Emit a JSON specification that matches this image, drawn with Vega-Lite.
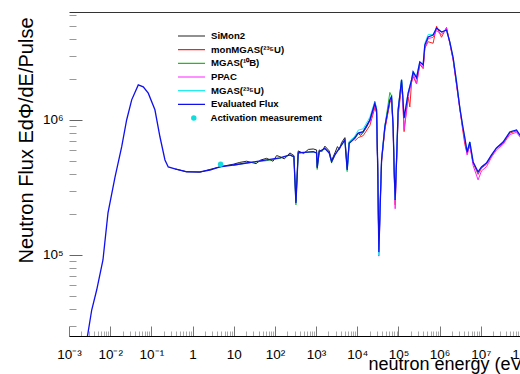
{
  "$schema": "https://vega.github.io/schema/vega-lite/v6.json",
  "width": 453,
  "height": 324,
  "autosize": {"type": "none"},
  "padding": {"left": 69, "top": 12, "right": 0, "bottom": 38},
  "background": "white",
  "config": {"view": {"stroke": null}, "font": "Liberation Sans"},
  "datasets": {
    "simon2": [
      {"E": 0.374, "F": 434000}, {"E": 0.719, "F": 414000}, {"E": 1.51, "F": 410000}, {"E": 2.64, "F": 430000}, {"E": 4.62, "F": 450000}, {"E": 9.72, "F": 470000}, {"E": 14, "F": 485000}, {"E": 20.6, "F": 495000}, {"E": 35, "F": 475000}, {"E": 45, "F": 505000}, {"E": 62.9, "F": 520000}, {"E": 90, "F": 495000}, {"E": 110, "F": 545000}, {"E": 132, "F": 535000}, {"E": 170, "F": 515000}, {"E": 231, "F": 570000}, {"E": 289, "F": 545000}, {"E": 324, "F": 250000}, {"E": 368, "F": 590000}, {"E": 500, "F": 565000}, {"E": 650, "F": 605000}, {"E": 851, "F": 610000}, {"E": 1028, "F": 600000}, {"E": 1064, "F": 450000}, {"E": 1190, "F": 600000}, {"E": 1400, "F": 585000}, {"E": 1636, "F": 640000}, {"E": 2080, "F": 590000}, {"E": 2377, "F": 500000}, {"E": 2860, "F": 570000}, {"E": 3300, "F": 635000}, {"E": 3700, "F": 605000}, {"E": 4157, "F": 680000}, {"E": 5000, "F": 740000}, {"E": 5690, "F": 435000}, {"E": 6355, "F": 690000}, {"E": 7500, "F": 725000}, {"E": 8750, "F": 750000}, {"E": 10500, "F": 800000}, {"E": 12000, "F": 770000}, {"E": 13900, "F": 810000}, {"E": 17000, "F": 890000}, {"E": 20200, "F": 990000}, {"E": 26700, "F": 1300000}, {"E": 29400, "F": 1170000}, {"E": 31100, "F": 500000}, {"E": 32200, "F": 250000}, {"E": 33400, "F": 105000}
    ],
    "monmgas": [
      {"E": 8750, "F": 700000}, {"E": 10500, "F": 740000}, {"E": 13900, "F": 765000}, {"E": 20200, "F": 910000}, {"E": 26700, "F": 1230000}, {"E": 29400, "F": 1130000}, {"E": 31100, "F": 520000}, {"E": 32200, "F": 260000}, {"E": 33400, "F": 110000}, {"E": 36800, "F": 300000}, {"E": 38900, "F": 490000}, {"E": 46800, "F": 850000}, {"E": 61800, "F": 1340000}, {"E": 68000, "F": 1440000}, {"E": 74300, "F": 860000}, {"E": 78700, "F": 410000}, {"E": 83200, "F": 235000}, {"E": 89900, "F": 480000}, {"E": 98400, "F": 1080000}, {"E": 119000, "F": 1780000}, {"E": 126000, "F": 1520000}, {"E": 137000, "F": 820000}, {"E": 172000, "F": 1480000}, {"E": 189000, "F": 1250000}, {"E": 208000, "F": 1900000}, {"E": 227000, "F": 2100000}, {"E": 275000, "F": 1850000}, {"E": 330000, "F": 2580000}, {"E": 398000, "F": 2400000}, {"E": 437000, "F": 3400000}, {"E": 526000, "F": 3800000}, {"E": 695000, "F": 3700000}, {"E": 841000, "F": 4950000}, {"E": 1110000, "F": 4100000}, {"E": 1470000, "F": 4850000}, {"E": 1770000, "F": 3700000}, {"E": 2130000, "F": 2780000}, {"E": 2570000, "F": 1820000}, {"E": 3090000, "F": 1230000}, {"E": 3600000, "F": 860000}, {"E": 4090000, "F": 660000}, {"E": 4650000, "F": 565000}, {"E": 5410000, "F": 650000}, {"E": 6500000, "F": 480000}, {"E": 8590000, "F": 395000}, {"E": 10400000, "F": 440000}, {"E": 13700000, "F": 470000}, {"E": 18200000, "F": 540000}, {"E": 24000000, "F": 620000}, {"E": 34800000, "F": 670000}, {"E": 50600000, "F": 800000}, {"E": 73600000, "F": 830000}, {"E": 88500000, "F": 770000}, {"E": 100000000, "F": 780000}
    ],
    "mgas10b": [
      {"E": 9.72, "F": 460000}, {"E": 20.6, "F": 480000}, {"E": 62.9, "F": 500000}, {"E": 132, "F": 520000}, {"E": 231, "F": 550000}, {"E": 289, "F": 530000}, {"E": 324, "F": 235000}, {"E": 368, "F": 570000}, {"E": 851, "F": 580000}, {"E": 1028, "F": 570000}, {"E": 1064, "F": 430000}, {"E": 1190, "F": 580000}, {"E": 1636, "F": 610000}, {"E": 2080, "F": 570000}, {"E": 2377, "F": 480000}, {"E": 2860, "F": 550000}, {"E": 4157, "F": 650000}, {"E": 5000, "F": 710000}, {"E": 5690, "F": 415000}, {"E": 6355, "F": 670000}, {"E": 8750, "F": 730000}, {"E": 10500, "F": 790000}, {"E": 13900, "F": 810000}, {"E": 20200, "F": 1000000}, {"E": 26700, "F": 1360000}, {"E": 29400, "F": 1200000}, {"E": 31100, "F": 510000}, {"E": 32200, "F": 260000}, {"E": 33400, "F": 110000}, {"E": 36800, "F": 290000}, {"E": 38900, "F": 510000}, {"E": 46800, "F": 900000}, {"E": 61800, "F": 1600000}, {"E": 68000, "F": 1500000}, {"E": 74300, "F": 890000}, {"E": 78700, "F": 430000}, {"E": 83200, "F": 260000}, {"E": 89900, "F": 510000}, {"E": 98400, "F": 1200000}, {"E": 119000, "F": 2000000}, {"E": 126000, "F": 1600000}
    ],
    "ppac": [
      {"E": 20200, "F": 960000}, {"E": 26700, "F": 1280000}, {"E": 29400, "F": 1150000}, {"E": 31100, "F": 490000}, {"E": 32200, "F": 250000}, {"E": 33400, "F": 98000}, {"E": 36800, "F": 280000}, {"E": 38900, "F": 500000}, {"E": 46800, "F": 870000}, {"E": 61800, "F": 1370000}, {"E": 68000, "F": 1450000}, {"E": 74300, "F": 870000}, {"E": 78700, "F": 420000}, {"E": 83200, "F": 220000}, {"E": 89900, "F": 500000}, {"E": 98400, "F": 1150000}, {"E": 119000, "F": 1900000}, {"E": 126000, "F": 1500000}, {"E": 137000, "F": 850000}, {"E": 172000, "F": 1500000}, {"E": 208000, "F": 1900000}, {"E": 227000, "F": 2200000}, {"E": 275000, "F": 1850000}, {"E": 330000, "F": 2600000}, {"E": 398000, "F": 2450000}, {"E": 437000, "F": 3400000}, {"E": 526000, "F": 4000000}, {"E": 695000, "F": 4100000}, {"E": 841000, "F": 4600000}, {"E": 1110000, "F": 4300000}, {"E": 1470000, "F": 4800000}, {"E": 1770000, "F": 3700000}, {"E": 2130000, "F": 2800000}, {"E": 2570000, "F": 1850000}, {"E": 3090000, "F": 1200000}, {"E": 3600000, "F": 890000}, {"E": 4090000, "F": 700000}, {"E": 4650000, "F": 550000}, {"E": 5410000, "F": 650000}, {"E": 6500000, "F": 460000}, {"E": 8590000, "F": 360000}, {"E": 10400000, "F": 420000}, {"E": 13700000, "F": 450000}, {"E": 18200000, "F": 530000}, {"E": 24000000, "F": 600000}, {"E": 34800000, "F": 660000}, {"E": 50600000, "F": 780000}, {"E": 73600000, "F": 810000}, {"E": 88500000, "F": 750000}, {"E": 100000000, "F": 760000}
    ],
    "mgas235u": [
      {"E": 5690, "F": 420000}, {"E": 6355, "F": 690000}, {"E": 8750, "F": 760000}, {"E": 10500, "F": 840000}, {"E": 13900, "F": 860000}, {"E": 20200, "F": 1050000}, {"E": 26700, "F": 1380000}, {"E": 29400, "F": 1220000}, {"E": 31100, "F": 500000}, {"E": 32200, "F": 250000}, {"E": 33400, "F": 100000}, {"E": 36800, "F": 290000}, {"E": 38900, "F": 510000}, {"E": 46800, "F": 910000}, {"E": 61800, "F": 1430000}, {"E": 68000, "F": 1520000}, {"E": 74300, "F": 900000}, {"E": 78700, "F": 430000}, {"E": 83200, "F": 260000}, {"E": 89900, "F": 510000}, {"E": 98400, "F": 1200000}, {"E": 119000, "F": 2000000}, {"E": 126000, "F": 1600000}, {"E": 137000, "F": 1050000}, {"E": 172000, "F": 1600000}, {"E": 208000, "F": 2000000}, {"E": 227000, "F": 2300000}, {"E": 275000, "F": 2100000}, {"E": 330000, "F": 2700000}, {"E": 398000, "F": 2600000}, {"E": 437000, "F": 3700000}, {"E": 526000, "F": 4300000}, {"E": 695000, "F": 4300000}, {"E": 841000, "F": 4800000}, {"E": 1110000, "F": 4500000}, {"E": 1470000, "F": 4600000}, {"E": 1770000, "F": 3800000}, {"E": 2130000, "F": 2900000}, {"E": 2570000, "F": 1950000}, {"E": 3090000, "F": 1250000}, {"E": 3600000, "F": 920000}, {"E": 4090000, "F": 740000}, {"E": 4650000, "F": 580000}, {"E": 5410000, "F": 690000}, {"E": 6500000, "F": 490000}, {"E": 8590000, "F": 410000}, {"E": 10400000, "F": 450000}, {"E": 13700000, "F": 480000}, {"E": 18200000, "F": 550000}, {"E": 24000000, "F": 620000}, {"E": 34800000, "F": 690000}, {"E": 50600000, "F": 820000}, {"E": 73600000, "F": 840000}, {"E": 88500000, "F": 770000}, {"E": 100000000, "F": 790000}
    ],
    "evaluated": [
      {"E": 0.00259, "F": 21500}, {"E": 0.00356, "F": 39100}, {"E": 0.0047, "F": 55000}, {"E": 0.00668, "F": 91800}, {"E": 0.00885, "F": 205000}, {"E": 0.0131, "F": 378000}, {"E": 0.019, "F": 631000}, {"E": 0.0251, "F": 1000000}, {"E": 0.0333, "F": 1410000}, {"E": 0.0481, "F": 1820000}, {"E": 0.0635, "F": 1760000}, {"E": 0.0841, "F": 1580000}, {"E": 0.122, "F": 1190000}, {"E": 0.162, "F": 748000}, {"E": 0.214, "F": 506000}, {"E": 0.257, "F": 449000}, {"E": 0.374, "F": 434000}, {"E": 0.719, "F": 412000}, {"E": 1.51, "F": 412000}, {"E": 2.64, "F": 426000}, {"E": 4.62, "F": 449000}, {"E": 9.72, "F": 464000}, {"E": 20.6, "F": 480000}, {"E": 62.9, "F": 506000}, {"E": 132, "F": 523000}, {"E": 231, "F": 551000}, {"E": 289, "F": 535000}, {"E": 324, "F": 243000}, {"E": 368, "F": 570000}, {"E": 851, "F": 582000}, {"E": 1028, "F": 570000}, {"E": 1064, "F": 441000}, {"E": 1190, "F": 582000}, {"E": 1636, "F": 617000}, {"E": 2080, "F": 570000}, {"E": 2377, "F": 491000}, {"E": 2860, "F": 551000}, {"E": 4157, "F": 653000}, {"E": 5000, "F": 711000}, {"E": 5690, "F": 426000}, {"E": 6355, "F": 672000}, {"E": 8750, "F": 736000}, {"E": 10500, "F": 801000}, {"E": 13900, "F": 819000}, {"E": 20200, "F": 1000000}, {"E": 26700, "F": 1330000}, {"E": 29400, "F": 1190000}, {"E": 31100, "F": 506000}, {"E": 32200, "F": 255000}, {"E": 33400, "F": 105000}, {"E": 36800, "F": 288000}, {"E": 38900, "F": 506000}, {"E": 46800, "F": 892000}, {"E": 61800, "F": 1410000}, {"E": 68000, "F": 1490000}, {"E": 74300, "F": 892000}, {"E": 78700, "F": 426000}, {"E": 83200, "F": 255000}, {"E": 89900, "F": 506000}, {"E": 98400, "F": 1190000}, {"E": 119000, "F": 1980000}, {"E": 126000, "F": 1580000}, {"E": 137000, "F": 1030000}, {"E": 172000, "F": 1580000}, {"E": 208000, "F": 1980000}, {"E": 227000, "F": 2270000}, {"E": 275000, "F": 2050000}, {"E": 330000, "F": 2690000}, {"E": 398000, "F": 2560000}, {"E": 437000, "F": 3590000}, {"E": 526000, "F": 4120000}, {"E": 695000, "F": 4260000}, {"E": 841000, "F": 4800000}, {"E": 1110000, "F": 4480000}, {"E": 1470000, "F": 4640000}, {"E": 1770000, "F": 3780000}, {"E": 2130000, "F": 2880000}, {"E": 2570000, "F": 1910000}, {"E": 3090000, "F": 1230000}, {"E": 3600000, "F": 918000}, {"E": 4090000, "F": 736000}, {"E": 4650000, "F": 579000}, {"E": 5410000, "F": 687000}, {"E": 6500000, "F": 489000}, {"E": 8590000, "F": 412000}, {"E": 10400000, "F": 449000}, {"E": 13700000, "F": 480000}, {"E": 18200000, "F": 551000}, {"E": 24000000, "F": 621000}, {"E": 34800000, "F": 687000}, {"E": 50600000, "F": 815000}, {"E": 73600000, "F": 843000}, {"E": 88500000, "F": 774000}, {"E": 100000000, "F": 788000}
    ],
    "activation": [
      {"E": 4.8, "F": 470000}
    ]
  },
  "layer": [
    {
      "layer": [
        {
          "data": {"name": "simon2"},
          "mark": {"type": "line", "clip": true, "strokeWidth": 1, "interpolate": "linear"},
          "encoding": {
            "x": {
              "field": "E", "type": "quantitative",
              "scale": {"type": "log", "domain": [0.001, 100000000], "nice": false},
              "axis": {
                "orient": "bottom",
                "title": "neutron energy (eV)",
                "titleFont": "Liberation Sans", "titleFontSize": 18, "titleFontWeight": "normal", "titleColor": "black",
                "titleX": 299, "titleY": 33, "titleAlign": "left", "titleBaseline": "alphabetic", "titleAngle": 0,
                "values": [0.001,0.002,0.003,0.004,0.005,0.006,0.007,0.008,0.009,0.01,0.02,0.03,0.04,0.05,0.06,0.07,0.08,0.09,0.1,0.2,0.3,0.4,0.5,0.6,0.7,0.8,0.9,1,2,3,4,5,6,7,8,9,10,20,30,40,50,60,70,80,90,100,200,300,400,500,600,700,800,900,1000,2000,3000,4000,5000,6000,7000,8000,9000,10000,20000,30000,40000,50000,60000,70000,80000,90000,100000,200000,300000,400000,500000,600000,700000,800000,900000,1000000,2000000,3000000,4000000,5000000,6000000,7000000,8000000,9000000,10000000,20000000,30000000,40000000,50000000,60000000,70000000,80000000,90000000,100000000],
                "labelExpr": "abs(log(datum.value)/LN10-round(log(datum.value)/LN10))<0.01 ? ['10⁻³','10⁻²','10⁻¹','1','10','10²','10³','10⁴','10⁵','10⁶','10⁷','10⁸'][round(log(datum.value)/LN10)+3] : ''",
                "labelFont": "Liberation Sans", "labelFontSize": 13.5, "labelColor": "black",
                "labelBaseline": "alphabetic", "labelPadding": 32, "labelFlush": false, "labelOverlap": false, "labelBound": false,
                "ticks": true, "tickOpacity": 1, "tickWidth": 1,
                "tickSize": {"condition": {"test": "abs(log(datum.value)/LN10-round(log(datum.value)/LN10))<0.01", "value": -10}, "value": -5},
                "tickColor": {"condition": {"test": "abs(log(datum.value)/LN10-round(log(datum.value)/LN10))<0.01", "value": "#777777"}, "value": "#aaaaaa"},
                "grid": false,
                "domainColor": "black", "domainWidth": 1
              }
            },
            "y": {
              "field": "F", "type": "quantitative",
              "scale": {"type": "log", "domain": [25100, 6310000], "nice": false},
              "axis": {
                "orient": "left",
                "title": "Neutron Flux EdΦ/dE/Pulse",
                "titleFont": "Liberation Sans", "titleFontSize": 20, "titleFontWeight": "normal", "titleColor": "black",
                "titleX": -37, "titleY": 128, "titleAngle": 270, "titleAlign": "center", "titleBaseline": "alphabetic",
                "values": [30000,40000,50000,60000,70000,80000,90000,100000,200000,300000,400000,500000,600000,700000,800000,900000,1000000,2000000,3000000,4000000,5000000,6000000],
                "labelExpr": "abs(log(datum.value)/LN10-round(log(datum.value)/LN10))<0.01 ? (round(log(datum.value)/LN10)==5 ? '10⁵' : '10⁶') : ''",
                "labelFont": "Liberation Sans", "labelFontSize": 13.5, "labelColor": "black",
                "labelPadding": 19, "labelOverlap": false, "labelBound": false, "labelFlush": false,
                "ticks": true, "tickOpacity": 1, "tickWidth": 1,
                "tickSize": {"condition": {"test": "abs(log(datum.value)/LN10-round(log(datum.value)/LN10))<0.01", "value": -13}, "value": -7},
                "tickColor": {"condition": {"test": "abs(log(datum.value)/LN10-round(log(datum.value)/LN10))<0.01", "value": "#666666"}, "value": "#999999"},
                "grid": false, "domain": false
              }
            },
            "color": {
              "datum": "SiMon2", "type": "nominal",
              "scale": {
                "domain": ["SiMon2", "monMGAS(²³⁵U)", "MGAS(¹⁰B)", "PPAC", "MGAS(²³⁵U)", "Evaluated Flux"],
                "range": ["#222222", "#ff2020", "#22bb22", "#ff22ff", "#22eeee", "#1010ee"]
              },
              "legend": {
                "orient": "none", "legendX": 108, "legendY": 18, "title": null,
                "symbolType": "stroke", "symbolSize": 729, "symbolStrokeWidth": 1.2,
                "clipHeight": 12, "rowPadding": 1.67, "labelOffset": 5, "padding": 0,
                "labelFont": "Liberation Sans", "labelFontSize": 9.6, "labelFontWeight": "bold", "labelColor": "black", "labelLimit": 300
              }
            }
          }
        },
        {
          "data": {"name": "monmgas"},
          "mark": {"type": "line", "clip": true, "strokeWidth": 1},
          "encoding": {
            "x": {"field": "E", "type": "quantitative", "scale": {"type": "log", "domain": [0.001, 100000000], "nice": false}},
            "y": {"field": "F", "type": "quantitative", "scale": {"type": "log", "domain": [25100, 6310000], "nice": false}},
            "color": {"datum": "monMGAS(²³⁵U)", "type": "nominal"}
          }
        },
        {
          "data": {"name": "mgas10b"},
          "mark": {"type": "line", "clip": true, "strokeWidth": 1},
          "encoding": {
            "x": {"field": "E", "type": "quantitative", "scale": {"type": "log", "domain": [0.001, 100000000], "nice": false}},
            "y": {"field": "F", "type": "quantitative", "scale": {"type": "log", "domain": [25100, 6310000], "nice": false}},
            "color": {"datum": "MGAS(¹⁰B)", "type": "nominal"}
          }
        },
        {
          "data": {"name": "ppac"},
          "mark": {"type": "line", "clip": true, "strokeWidth": 1},
          "encoding": {
            "x": {"field": "E", "type": "quantitative", "scale": {"type": "log", "domain": [0.001, 100000000], "nice": false}},
            "y": {"field": "F", "type": "quantitative", "scale": {"type": "log", "domain": [25100, 6310000], "nice": false}},
            "color": {"datum": "PPAC", "type": "nominal"}
          }
        },
        {
          "data": {"name": "mgas235u"},
          "mark": {"type": "line", "clip": true, "strokeWidth": 1},
          "encoding": {
            "x": {"field": "E", "type": "quantitative", "scale": {"type": "log", "domain": [0.001, 100000000], "nice": false}},
            "y": {"field": "F", "type": "quantitative", "scale": {"type": "log", "domain": [25100, 6310000], "nice": false}},
            "color": {"datum": "MGAS(²³⁵U)", "type": "nominal"}
          }
        },
        {
          "data": {"name": "evaluated"},
          "mark": {"type": "line", "clip": true, "strokeWidth": 1.3},
          "encoding": {
            "x": {"field": "E", "type": "quantitative", "scale": {"type": "log", "domain": [0.001, 100000000], "nice": false}},
            "y": {"field": "F", "type": "quantitative", "scale": {"type": "log", "domain": [25100, 6310000], "nice": false}},
            "color": {"datum": "Evaluated Flux", "type": "nominal"}
          }
        }
      ]
    },
    {
      "data": {"name": "activation"},
      "mark": {"type": "point", "filled": true, "color": "#11dddd", "size": 30, "opacity": 1},
      "encoding": {
        "x": {
          "field": "E", "type": "quantitative",
          "scale": {"type": "log", "domain": [0.001, 100000000], "nice": false},
          "axis": {"orient": "top", "ticks": false, "labels": false, "title": null, "grid": false, "domainColor": "#333333", "domainWidth": 1}
        },
        "y": {"field": "F", "type": "quantitative", "scale": {"type": "log", "domain": [25100, 6310000], "nice": false}},
        "shape": {
          "datum": "Activation measurement", "type": "nominal",
          "scale": {"range": ["circle"]},
          "legend": {
            "orient": "none", "legendX": 120, "legendY": 100, "title": null,
            "symbolSize": 30, "symbolFillColor": "#11dddd", "symbolStrokeColor": "#11dddd", "symbolStrokeWidth": 0,
            "clipHeight": 12, "labelOffset": 12, "padding": 0,
            "labelFont": "Liberation Sans", "labelFontSize": 9.6, "labelFontWeight": "bold", "labelColor": "black", "labelLimit": 300
          }
        }
      }
    }
  ],
  "resolve": {"axis": {"x": "independent"}}
}
